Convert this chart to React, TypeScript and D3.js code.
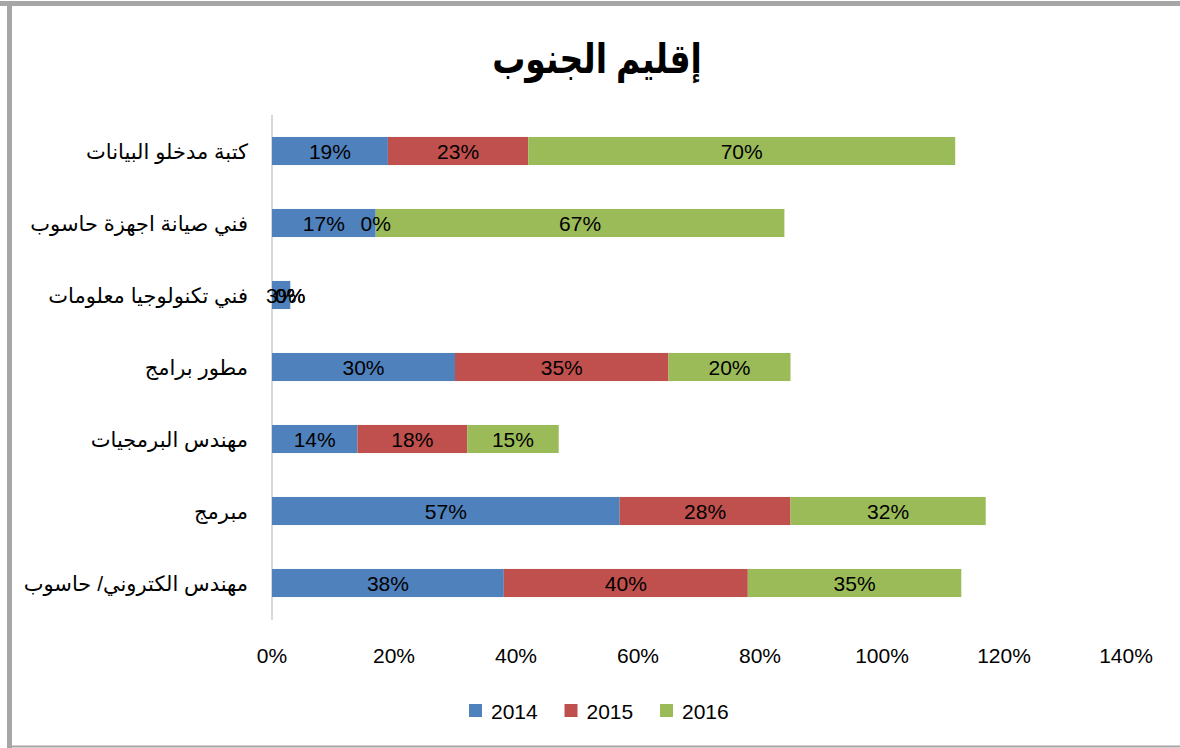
import React from "react";
import * as d3 from "d3";

const title = "إقليم الجنوب";
const categories = [
  "كتبة مدخلو البيانات",
  "فني صيانة اجهزة حاسوب",
  "فني تكنولوجيا معلومات",
  "مطور برامج",
  "مهندس البرمجيات",
  "مبرمج",
  "مهندس الكتروني/ حاسوب",
];
const years = ["2014", "2015", "2016"];
const values2014 = [19, 17, 3, 30, 14, 57, 38];
const values2015 = [23, 0, 0, 35, 18, 28, 40];
const values2016 = [70, 67, 0, 20, 15, 32, 35];
const xTicks = [0, 20, 40, 60, 80, 100, 120, 140];
const colors = ["#4F81BD", "#C0504D", "#9BBB59"];

const W = 1180;
const H = 748;
const FONT = "'Liberation Sans', Arial, 'DejaVu Sans', sans-serif";

export default function App() {
  const series = [values2014, values2015, values2016];
  const rows = categories.map((c, i) => ({
    cat: c,
    "2014": values2014[i],
    "2015": values2015[i],
    "2016": values2016[i],
  }));
  const stack = d3.stack<any>().keys(years)(rows);

  const x = d3.scaleLinear().domain([0, 140]).range([272, 1126]);
  const y = d3
    .scaleBand<string>()
    .domain(categories)
    .range([115, 619])
    .paddingInner(0.61)
    .paddingOuter(0.305);
  const bh = y.bandwidth();

  return (
    <svg
      width={W}
      height={H}
      style={{ position: "absolute", left: 0, top: 0, background: "#fff" }}
      fontFamily={FONT}
    >
      {/* chart frame */}
      <line x1={0} x2={W} y1={3.5} y2={3.5} stroke="#a6a6a6" strokeWidth={5} />
      <line x1={9.5} x2={9.5} y1={1} y2={H} stroke="#a6a6a6" strokeWidth={5} />
      <line x1={7} x2={W} y1={746.5} y2={746.5} stroke="#a6a6a6" strokeWidth={2} />

      <text
        x={597}
        y={73}
        textAnchor="middle"
        fontSize={33}
        fontWeight="bold"
        fill="#000"
        transform="translate(597,73) scale(1,1.25) translate(-597,-73)"
      >
        {title}
      </text>

      {/* category axis line */}
      <line x1={x(0)} x2={x(0)} y1={115} y2={620} stroke="#d9d9d9" strokeWidth={2} />

      {stack.map((layer, si) => (
        <g key={years[si]}>
          {layer.map((d, i) => (
            <rect
              key={i}
              x={x(d[0])}
              y={y(categories[i])!}
              width={x(d[1]) - x(d[0])}
              height={bh}
              fill={colors[si]}
            />
          ))}
        </g>
      ))}

      {stack.map((layer, si) => (
        <g key={"l" + years[si]}>
          {layer.map((d, i) => (
            <text
              key={i}
              x={(x(d[0]) + x(d[1])) / 2}
              y={y(categories[i])! + bh / 2}
              dy="0.36em"
              textAnchor="middle"
              fontSize={21}
              fill="#000"
            >
              {series[si][i] + "%"}
            </text>
          ))}
        </g>
      ))}

      {categories.map((c) => (
        <text
          key={c}
          x={248}
          y={y(c)! + bh / 2}
          dy="0.36em"
          textAnchor="end"
          fontSize={21}
          fill="#000"
        >
          {c}
        </text>
      ))}

      {xTicks.map((t) => (
        <text key={t} x={x(t)} y={655} dy="0.36em" textAnchor="middle" fontSize={21} fill="#000">
          {t + "%"}
        </text>
      ))}

      {years.map((yr, i) => (
        <g key={yr} transform={`translate(${469 + i * 95.5},0)`}>
          <rect x={0} y={704} width={13} height={13} fill={colors[i]} />
          <text x={22} y={711} dy="0.36em" fontSize={21} fill="#000">
            {yr}
          </text>
        </g>
      ))}
    </svg>
  );
}
